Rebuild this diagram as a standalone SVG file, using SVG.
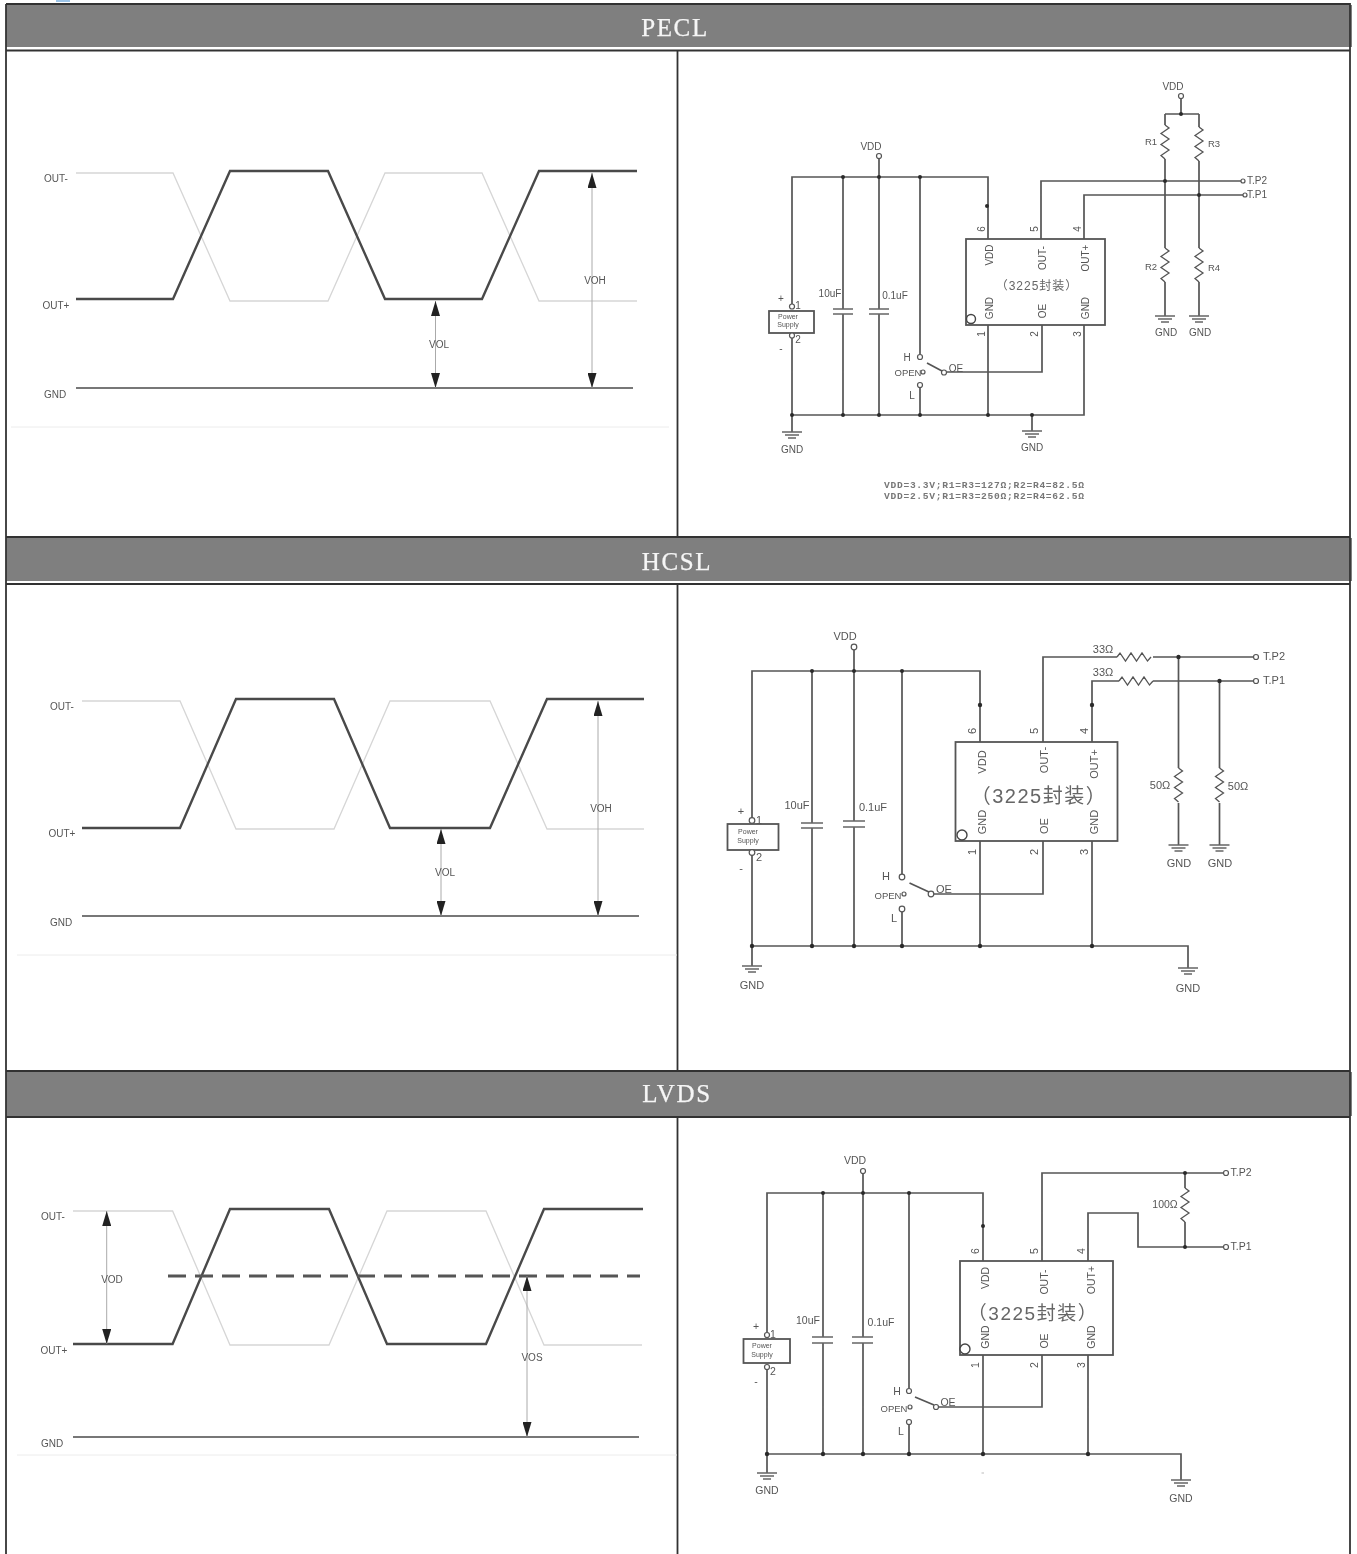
<svg xmlns="http://www.w3.org/2000/svg" width="1357" height="1554" viewBox="0 0 1357 1554">
<style>
.w{fill:none;stroke:#555;stroke-width:1.7}
.r{fill:none;stroke:#555;stroke-width:1.3}
.g{fill:none;stroke:#666;stroke-width:1.4}
.box{fill:#fff;stroke:#555;stroke-width:1.8}
.o{fill:#fff;stroke:#555;stroke-width:1.2}
.pin1{fill:#fff;stroke:#444;stroke-width:1.4}
.d{fill:#2c2c2c}
.cap{fill:none;stroke:#666;stroke-width:1.5}
.t{font-family:"Liberation Sans",Arial,sans-serif;font-size:10px;fill:#555;text-anchor:middle;dominant-baseline:central}
.hc .t{font-size:11px}
.lv .t{font-size:10.5px}
.t.s,.hc .t.s,.lv .t.s{font-size:9.5px}
.t.xs,.hc .t.xs,.lv .t.xs{font-size:7px}
.chip{font-family:"Liberation Sans","Noto Sans CJK SC",sans-serif;fill:#666;text-anchor:middle;dominant-baseline:central}
.mono{font-family:"Liberation Mono","Courier New",monospace;font-size:9.6px;font-weight:bold;fill:#777}
.h{font-family:"Liberation Serif","Times New Roman",serif;font-size:25px;fill:#f6f6f6;text-anchor:middle;dominant-baseline:central;letter-spacing:1.6px;stroke:#f6f6f6;stroke-width:.25}
.bar{fill:#7f7f7f}
.frame{stroke:#333;stroke-width:1.8;fill:none}
.dark{fill:none;stroke:#4a4a4a;stroke-width:2.4}
.light{fill:none;stroke:#d6d6d6;stroke-width:1.3}
.base{fill:none;stroke:#777;stroke-width:2}
.faint{fill:none;stroke:#ececec;stroke-width:1}
.ar{fill:none;stroke:#aaa;stroke-width:1;marker-start:url(#ah);marker-end:url(#ah)}
.dash{fill:none;stroke:#555;stroke-width:3;stroke-dasharray:18 9}
</style>
<defs>
<filter id="soft" filterUnits="userSpaceOnUse" x="0" y="0" width="1357" height="1554"><feGaussianBlur stdDeviation="0.6"/></filter>
<marker id="ah" viewBox="0 0 15 9" refX="15" refY="4.500" markerUnits="userSpaceOnUse" markerWidth="15" markerHeight="9" orient="auto-start-reverse"><path d="M0 0L15 4.500L0 9Z" fill="#222"/></marker>
<path id="rv" class="r" d="M0 0L4 3L-4 8.500L4 14L-4 19.500L4 25L-4 30.500L0 34"/>
<path id="rh" class="r" d="M0 0L3 -4L8.500 4L14 -4L19.500 4L25 -4L30.500 4L34 0"/>
<path id="gnd" class="g" d="M-10 0H10M-7 3H7M-4 6H4"/>
</defs>
<g filter="url(#soft)">
<rect width="1357" height="1554" fill="#fff"/>
<path d="M56 1H70" stroke="#9cc4e8" stroke-width="2" fill="none"/>
<g id="table">
<rect class="bar" x="6" y="5" width="1346" height="42"/>
<rect class="bar" x="6" y="538" width="1346" height="43"/>
<rect class="bar" x="6" y="1072" width="1346" height="44"/>
<path class="frame" d="M6 4H1350V1554M6 4V1554M6 50.500H1350M6 537H1350M6 584H1350M6 1071H1350M6 1117H1350M677.500 51V537M677.500 585V1071M677.500 1118V1554"/>
<text class="h" x="675" y="27">PECL</text>
<text class="h" x="677" y="561">HCSL</text>
<text class="h" x="677" y="1093">LVDS</text>
</g>

<g id="wave-pecl">
<path class="faint" d="M11 427H669"/>
<path class="light" d="M76 173H173L230 301H328L385 173H482L539 301H637"/>
<path class="dark" d="M76 299H173L230 171H328L385 299H482L539 171H637"/>
<path class="base" d="M76 388H633"/>
<path class="ar" d="M435.500 301V388"/>
<path class="ar" d="M592 173V388"/>
<text class="t" x="56" y="178">OUT-</text><text class="t" x="56" y="305">OUT+</text><text class="t" x="55" y="394">GND</text>
<text class="t" x="439" y="344">VOL</text><text class="t" x="595" y="280">VOH</text>
</g>
<g id="wave-hcsl">
<path class="faint" d="M17 955H677"/>
<path class="light" d="M82 701H180L236 829H334L390 701H490L547 829H644"/>
<path class="dark" d="M82 828H180L236 699H334L390 828H490L547 699H644"/>
<path class="base" d="M82 916H639"/>
<path class="ar" d="M441 829V916"/>
<path class="ar" d="M598 701V916"/>
<text class="t" x="62" y="706">OUT-</text><text class="t" x="62" y="833">OUT+</text><text class="t" x="61" y="922">GND</text>
<text class="t" x="445" y="872">VOL</text><text class="t" x="601" y="808">VOH</text>
</g>
<g id="wave-lvds">
<path class="faint" d="M17 1455H677"/>
<path class="light" d="M73 1211H172.600L230 1345H329L387 1211H486L544 1345H642"/>
<path class="dark" d="M73 1344H172.600L230 1209H329L387 1344H486L544 1209H643"/>
<path class="dash" d="M168 1276H640"/>
<path class="base" d="M73 1437H639"/>
<path class="ar" d="M106.700 1211V1344"/>
<path class="ar" d="M527 1276V1437"/>
<text class="t" x="53" y="1216">OUT-</text><text class="t" x="54" y="1350">OUT+</text><text class="t" x="52" y="1443">GND</text>
<text class="t" x="112" y="1279">VOD</text><text class="t" x="532" y="1357">VOS</text>
</g>

<g id="connectors">
<g id="conn-pecl">
<path class="w" d="M792 304V177H988V239M792 338V415M792 415H1084V325M843 177V309M843 314V415M879 158V309M879 314V415M920 177V354M920 388V415M988 325V415M947 372H1042V325M1041 239V181H1241M1084 239V195H1243M792 415V432M1032 415V431"/>
<path class="w" d="M1181 99V114M1165 114H1199M1165 114V125M1165 159V248M1165 282V316M1199 114V127M1199 161V248M1199 282V316"/>
<g class="d"><circle cx="843" cy="177" r="2"/><circle cx="879" cy="177" r="2"/><circle cx="920" cy="177" r="2"/><circle cx="987" cy="206" r="2"/><circle cx="792" cy="415" r="2"/><circle cx="843" cy="415" r="2"/><circle cx="879" cy="415" r="2"/><circle cx="920" cy="415" r="2"/><circle cx="988" cy="415" r="2"/><circle cx="1032" cy="415" r="2"/><circle cx="1165" cy="181" r="2"/><circle cx="1199" cy="195" r="2"/><circle cx="1181" cy="114" r="2"/></g>
</g>
<g id="conn-hcsl">
<path class="w" d="M752 818V671H980V742M752 855V946H1188V968M812 671V823M812 828V946M854 650V821M854 827V946M902 671V874M902 912V946M980 841V946M1092 841V946M934 894H1043V841M1043 742V657H1117M1153 657H1253M1092 742V681H1119M1153 681H1253M1178.500 657V768M1178.500 803V845M1219.500 681V768M1219.500 803V845M752 946V966"/>
<g class="d"><circle cx="812" cy="671" r="2"/><circle cx="854" cy="671" r="2"/><circle cx="902" cy="671" r="2"/><circle cx="980" cy="705" r="2.200"/><circle cx="1092" cy="705" r="2.200"/><circle cx="1178.500" cy="657" r="2.200"/><circle cx="1219.500" cy="681" r="2.200"/><circle cx="752" cy="946" r="2.200"/><circle cx="812" cy="946" r="2.200"/><circle cx="854" cy="946" r="2.200"/><circle cx="902" cy="946" r="2.200"/><circle cx="980" cy="946" r="2.200"/><circle cx="1092" cy="946" r="2.200"/></g>
</g>
<g id="conn-lvds">
<path class="w" d="M767 1332V1193H983V1261M767 1370V1454H1181V1480M823 1193V1337M823 1343V1454M863 1174V1337M863 1343V1454M909 1193V1388M909 1425V1454M983 1355V1454M1088 1355V1454M939 1407H1042V1355M1042 1261V1173H1223M1088 1261V1213H1138V1247H1223M1185 1173V1188M1185 1222V1247M767 1454V1473"/>
<g class="d"><circle cx="823" cy="1193" r="2"/><circle cx="863" cy="1193" r="2"/><circle cx="909" cy="1193" r="2"/><circle cx="983" cy="1226" r="2"/><circle cx="1185" cy="1173" r="2"/><circle cx="1185" cy="1247" r="2"/><circle cx="767" cy="1454" r="2.200"/><circle cx="823" cy="1454" r="2.200"/><circle cx="863" cy="1454" r="2.200"/><circle cx="909" cy="1454" r="2.200"/><circle cx="983" cy="1454" r="2.200"/><circle cx="1088" cy="1454" r="2.200"/></g>
<path d="M981.500 1473H984" stroke="#bbb" fill="none"/>
</g>
</g>

<g id="pecl">
<g id="pecl-chip">
<rect class="box" x="966" y="239" width="139" height="86"/>
<circle class="pin1" cx="971" cy="319" r="4.500"/>
<text class="chip" font-size="12" x="1037" y="286" letter-spacing="1">（3225封装）</text>
<text class="t" transform="rotate(-90 989 255)" x="989" y="255">VDD</text>
<text class="t" transform="rotate(-90 1042 258)" x="1042" y="258">OUT-</text>
<text class="t" transform="rotate(-90 1085 258)" x="1085" y="258">OUT+</text>
<text class="t" transform="rotate(-90 989 308)" x="989" y="308">GND</text>
<text class="t" transform="rotate(-90 1042 311)" x="1042" y="311">OE</text>
<text class="t" transform="rotate(-90 1085 308)" x="1085" y="308">GND</text>
<text class="t" transform="rotate(-90 981 229)" x="981" y="229">6</text>
<text class="t" transform="rotate(-90 1034 229)" x="1034" y="229">5</text>
<text class="t" transform="rotate(-90 1077 229)" x="1077" y="229">4</text>
<text class="t" transform="rotate(-90 981 334)" x="981" y="334">1</text>
<text class="t" transform="rotate(-90 1034 334)" x="1034" y="334">2</text>
<text class="t" transform="rotate(-90 1077 334)" x="1077" y="334">3</text>
</g>
<g id="pecl-power">
<rect class="box" x="769" y="311" width="45" height="22"/>
<circle class="o" cx="792" cy="306.500" r="2.500"/><circle class="o" cx="792" cy="335.500" r="2.500"/>
<text class="t xs" x="788" y="316.500">Power</text><text class="t xs" x="788" y="324.500">Supply</text>
<text class="t" x="781" y="298">+</text><text class="t" x="781" y="348">-</text><text class="t" x="798" y="305">1</text><text class="t" x="798" y="339">2</text>
</g>
<g id="pecl-c1"><path class="cap" d="M833 309H853M833 314H853"/><text class="t" x="830" y="293">10uF</text></g>
<g id="pecl-c2"><path class="cap" d="M869 309H889M869 314H889"/><text class="t" x="895" y="295">0.1uF</text></g>
<g id="pecl-switch">
<circle class="o" cx="920" cy="357" r="2.500"/><circle class="o" cx="920" cy="385" r="2.500"/><circle class="o" cx="923" cy="372" r="2"/><circle class="o" cx="944" cy="372.500" r="2.500"/>
<path class="w" d="M942 371L927 363"/>
<text class="t" x="907" y="357">H</text><text class="t s" x="908" y="372">OPEN</text><text class="t" x="912" y="395">L</text><text class="t" x="956" y="368">OE</text>
</g>
<g id="pecl-vdd1"><circle class="o" cx="879" cy="156" r="2.500"/><text class="t" x="871" y="146">VDD</text></g>
<g id="pecl-vdd2"><circle class="o" cx="1181" cy="96" r="2.500"/><text class="t" x="1173" y="86">VDD</text></g>
<g id="pecl-gnd1"><use href="#gnd" x="792" y="432"/><text class="t" x="792" y="449">GND</text></g>
<g id="pecl-gnd2"><use href="#gnd" x="1032" y="431"/><text class="t" x="1032" y="447">GND</text></g>
<g id="pecl-gnd3"><use href="#gnd" x="1165" y="316"/><text class="t" x="1166" y="332">GND</text></g>
<g id="pecl-gnd4"><use href="#gnd" x="1199" y="316"/><text class="t" x="1200" y="332">GND</text></g>
<g id="pecl-r1"><use href="#rv" x="1165" y="125"/><text class="t s" x="1151" y="141">R1</text></g>
<g id="pecl-r3"><use href="#rv" x="1199" y="127"/><text class="t s" x="1214" y="143">R3</text></g>
<g id="pecl-r2"><use href="#rv" x="1165" y="248"/><text class="t s" x="1151" y="266">R2</text></g>
<g id="pecl-r4"><use href="#rv" x="1199" y="248"/><text class="t s" x="1214" y="267">R4</text></g>
<g id="pecl-tp2"><circle class="o" cx="1243" cy="181" r="2"/><text class="t" x="1257" y="180">T.P2</text></g>
<g id="pecl-tp1"><circle class="o" cx="1245" cy="195" r="2"/><text class="t" x="1257" y="194">T.P1</text></g>
<g id="pecl-note"><text class="mono" x="884" y="488" textLength="200">VDD=3.3V;R1=R3=127Ω;R2=R4=82.5Ω</text><text class="mono" x="884" y="499" textLength="200">VDD=2.5V;R1=R3=250Ω;R2=R4=62.5Ω</text></g>
</g>

<g id="hcsl" class="hc">
<g id="hcsl-chip">
<rect class="box" x="955.500" y="742" width="162" height="99"/>
<circle class="pin1" cx="962" cy="835" r="5"/>
<text class="chip" font-size="20" x="1039" y="796" letter-spacing="1.5">（3225封装）</text>
<text class="t" transform="rotate(-90 982 762)" x="982" y="762">VDD</text>
<text class="t" transform="rotate(-90 1044 760)" x="1044" y="760">OUT-</text>
<text class="t" transform="rotate(-90 1094 764)" x="1094" y="764">OUT+</text>
<text class="t" transform="rotate(-90 982 822)" x="982" y="822">GND</text>
<text class="t" transform="rotate(-90 1044 826)" x="1044" y="826">OE</text>
<text class="t" transform="rotate(-90 1094 822)" x="1094" y="822">GND</text>
<text class="t" transform="rotate(-90 972 731)" x="972" y="731">6</text>
<text class="t" transform="rotate(-90 1034 731)" x="1034" y="731">5</text>
<text class="t" transform="rotate(-90 1084 731)" x="1084" y="731">4</text>
<text class="t" transform="rotate(-90 972 852)" x="972" y="852">1</text>
<text class="t" transform="rotate(-90 1034 852)" x="1034" y="852">2</text>
<text class="t" transform="rotate(-90 1084 852)" x="1084" y="852">3</text>
</g>
<g id="hcsl-power">
<rect class="box" x="727.500" y="824" width="51" height="26"/>
<circle class="o" cx="752" cy="820.500" r="2.800"/><circle class="o" cx="752" cy="852.500" r="2.800"/>
<text class="t xs" x="748" y="831">Power</text><text class="t xs" x="748" y="840">Supply</text>
<text class="t" x="741" y="811">+</text><text class="t" x="741" y="868">-</text><text class="t" x="759" y="820">1</text><text class="t" x="759" y="857">2</text>
</g>
<g id="hcsl-c1"><path class="cap" d="M801 823H823M801 828H823"/><text class="t" x="797" y="805">10uF</text></g>
<g id="hcsl-c2"><path class="cap" d="M843 821H865M843 827H865"/><text class="t" x="873" y="807">0.1uF</text></g>
<g id="hcsl-switch">
<circle class="o" cx="902" cy="877" r="2.800"/><circle class="o" cx="902" cy="909" r="2.800"/><circle class="o" cx="904" cy="894" r="2"/><circle class="o" cx="931" cy="894" r="2.800"/>
<path class="w" d="M929 892L909.500 883"/>
<text class="t" x="886" y="876">H</text><text class="t s" x="888" y="895">OPEN</text><text class="t" x="894" y="918">L</text><text class="t" x="944" y="889">OE</text>
</g>
<g id="hcsl-vdd"><circle class="o" cx="854" cy="647" r="2.800"/><text class="t" x="845" y="636">VDD</text></g>
<g id="hcsl-r1"><use href="#rh" x="1117" y="657"/><text class="t" x="1103" y="649">33Ω</text></g>
<g id="hcsl-r2"><use href="#rh" x="1119" y="681"/><text class="t" x="1103" y="672">33Ω</text></g>
<g id="hcsl-r3"><use href="#rv" x="1178.500" y="768"/><text class="t" x="1160" y="785">50Ω</text></g>
<g id="hcsl-r4"><use href="#rv" x="1219.500" y="768"/><text class="t" x="1238" y="786">50Ω</text></g>
<g id="hcsl-gnd1"><use href="#gnd" x="752" y="966"/><text class="t" x="752" y="985">GND</text></g>
<g id="hcsl-gnd2"><use href="#gnd" x="1188" y="968"/><text class="t" x="1188" y="988">GND</text></g>
<g id="hcsl-gnd3"><use href="#gnd" x="1178.500" y="845"/><text class="t" x="1179" y="863">GND</text></g>
<g id="hcsl-gnd4"><use href="#gnd" x="1219.500" y="845"/><text class="t" x="1220" y="863">GND</text></g>
<g id="hcsl-tp2"><circle class="o" cx="1256" cy="657" r="2.500"/><text class="t" x="1274" y="656">T.P2</text></g>
<g id="hcsl-tp1"><circle class="o" cx="1256" cy="681" r="2.500"/><text class="t" x="1274" y="680">T.P1</text></g>
</g>

<g id="lvds" class="lv">
<g id="lvds-chip">
<rect class="box" x="960" y="1261" width="153" height="94"/>
<circle class="pin1" cx="965" cy="1349" r="5"/>
<text class="chip" font-size="19" x="1033" y="1313" letter-spacing="1.5">（3225封装）</text>
<text class="t" transform="rotate(-90 985 1278)" x="985" y="1278">VDD</text>
<text class="t" transform="rotate(-90 1044 1282)" x="1044" y="1282">OUT-</text>
<text class="t" transform="rotate(-90 1091 1280)" x="1091" y="1280">OUT+</text>
<text class="t" transform="rotate(-90 985 1337)" x="985" y="1337">GND</text>
<text class="t" transform="rotate(-90 1044 1341)" x="1044" y="1341">OE</text>
<text class="t" transform="rotate(-90 1091 1337)" x="1091" y="1337">GND</text>
<text class="t" transform="rotate(-90 975 1251)" x="975" y="1251">6</text>
<text class="t" transform="rotate(-90 1034 1251)" x="1034" y="1251">5</text>
<text class="t" transform="rotate(-90 1081 1251)" x="1081" y="1251">4</text>
<text class="t" transform="rotate(-90 975 1365)" x="975" y="1365">1</text>
<text class="t" transform="rotate(-90 1034 1365)" x="1034" y="1365">2</text>
<text class="t" transform="rotate(-90 1081 1365)" x="1081" y="1365">3</text>
</g>
<g id="lvds-power">
<rect class="box" x="743.500" y="1339" width="46.500" height="24"/>
<circle class="o" cx="767" cy="1335" r="2.500"/><circle class="o" cx="767" cy="1367" r="2.500"/>
<text class="t xs" x="762" y="1345">Power</text><text class="t xs" x="762" y="1354">Supply</text>
<text class="t" x="756" y="1326">+</text><text class="t" x="756" y="1381">-</text><text class="t" x="773" y="1334">1</text><text class="t" x="773" y="1371">2</text>
</g>
<g id="lvds-c1"><path class="cap" d="M812 1337H833M812 1343H833"/><text class="t" x="808" y="1320">10uF</text></g>
<g id="lvds-c2"><path class="cap" d="M852 1337H873M852 1343H873"/><text class="t" x="881" y="1322">0.1uF</text></g>
<g id="lvds-switch">
<circle class="o" cx="909" cy="1391" r="2.500"/><circle class="o" cx="909" cy="1422" r="2.500"/><circle class="o" cx="910" cy="1407" r="2"/><circle class="o" cx="936" cy="1407" r="2.500"/>
<path class="w" d="M934 1405L915 1397"/>
<text class="t" x="897" y="1391">H</text><text class="t s" x="894" y="1408">OPEN</text><text class="t" x="901" y="1431">L</text><text class="t" x="948" y="1402">OE</text>
</g>
<g id="lvds-vdd"><circle class="o" cx="863" cy="1171" r="2.500"/><text class="t" x="855" y="1160">VDD</text></g>
<g id="lvds-r"><use href="#rv" x="1185" y="1188"/><text class="t" x="1165" y="1204">100Ω</text></g>
<g id="lvds-gnd1"><use href="#gnd" x="767" y="1473"/><text class="t" x="767" y="1490">GND</text></g>
<g id="lvds-gnd2"><use href="#gnd" x="1181" y="1480"/><text class="t" x="1181" y="1498">GND</text></g>
<g id="lvds-tp2"><circle class="o" cx="1226" cy="1173" r="2.500"/><text class="t" x="1241" y="1172">T.P2</text></g>
<g id="lvds-tp1"><circle class="o" cx="1226" cy="1247" r="2.500"/><text class="t" x="1241" y="1246">T.P1</text></g>
</g>
</g>
</svg>
